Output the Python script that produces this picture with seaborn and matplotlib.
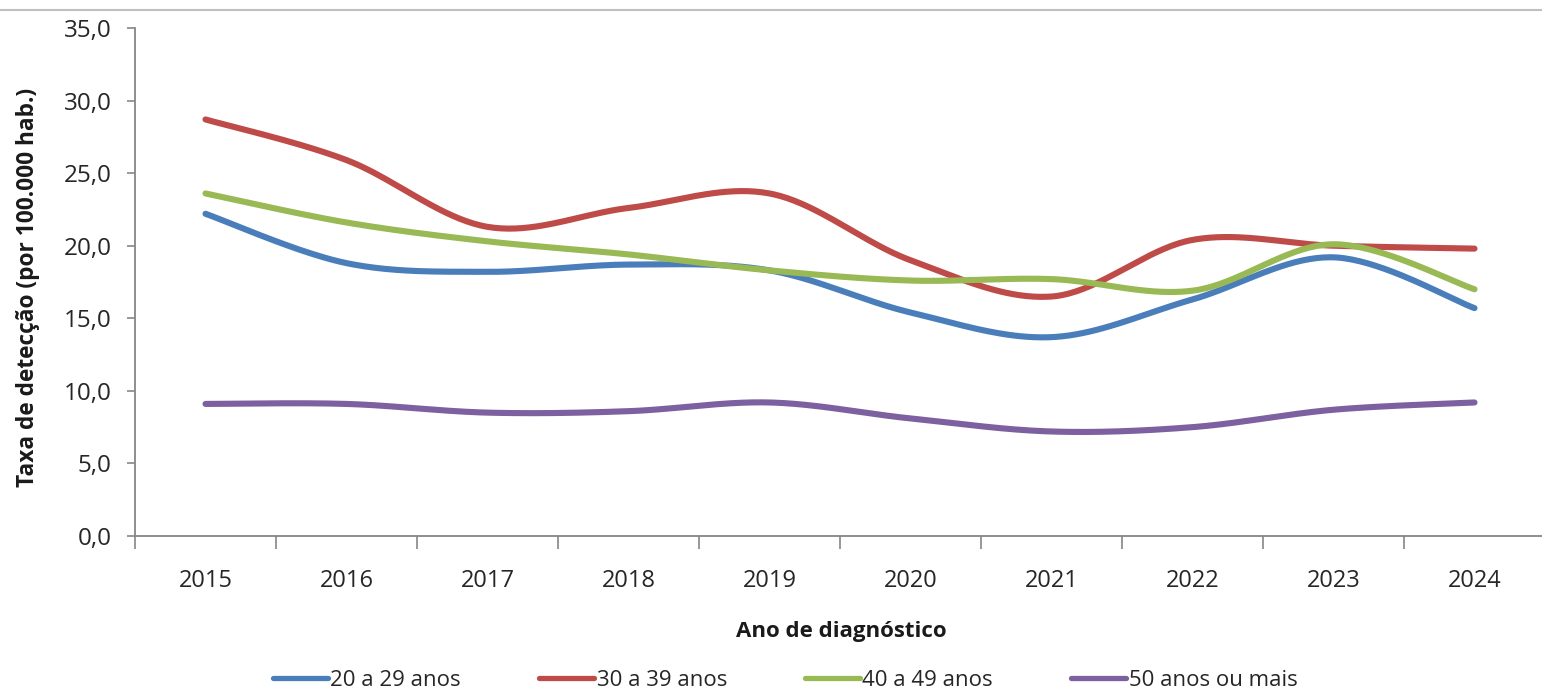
import numpy as np
import pandas as pd
import matplotlib
matplotlib.use("Agg")
import matplotlib.pyplot as plt
import seaborn as sns
from matplotlib.lines import Line2D
from matplotlib.ticker import FixedLocator, FuncFormatter

# Taxa de detecção por faixa etária (por 100.000 hab.)
anos = [2015, 2016, 2017, 2018, 2019, 2020, 2021, 2022, 2023, 2024]
faixa_20_29 = [22.2, 18.8, 18.2, 18.7, 18.3, 15.4, 13.7, 16.3, 19.2, 15.7]
faixa_30_39 = [28.7, 25.9, 21.3, 22.6, 23.6, 19.0, 16.5, 20.4, 20.0, 19.8]
faixa_40_49 = [23.6, 21.6, 20.3, 19.4, 18.3, 17.6, 17.7, 16.9, 20.1, 17.0]
faixa_50_mais = [9.1, 9.1, 8.5, 8.6, 9.2, 8.1, 7.2, 7.5, 8.7, 9.2]

grupos = ["20 a 29 anos", "30 a 39 anos", "40 a 49 anos", "50 anos ou mais"]
series = [faixa_20_29, faixa_30_39, faixa_40_49, faixa_50_mais]
cores = ["#4A7EBB", "#BE4B48", "#98B954", "#7D60A0"]

sns.set_theme(style="white")
plt.rcParams["font.family"] = ["Open Sans", "DejaVu Sans"]

CINZA = "#868686"


def suavizar(valores, passos=40):
    """Curva suavizada (Bézier com pontos de controle Catmull-Rom) passando pelos pontos."""
    y = np.asarray(valores, dtype=float)
    x = np.arange(len(y), dtype=float)
    pts = np.column_stack([x, y])
    ext = np.vstack([pts[0], pts, pts[-1]])
    t = np.linspace(0, 1, passos, endpoint=False)[:, None]
    partes = []
    for i in range(len(pts) - 1):
        p0, p3 = ext[i + 1], ext[i + 2]
        c1 = p0 + (ext[i + 2] - ext[i]) / 6.0
        c2 = p3 - (ext[i + 3] - ext[i + 1]) / 6.0
        partes.append((1 - t) ** 3 * p0 + 3 * (1 - t) ** 2 * t * c1
                      + 3 * (1 - t) * t ** 2 * c2 + t ** 3 * p3)
    partes.append(pts[-1:])
    return np.vstack(partes)


linhas = []
for nome, vals in zip(grupos, series):
    curva = suavizar(vals)
    linhas.append(pd.DataFrame({"pos": curva[:, 0], "taxa": curva[:, 1],
                                "grupo": nome, "ordem": np.arange(len(curva))}))
df = pd.concat(linhas, ignore_index=True)

W, H = 1542, 694
fig = plt.figure(figsize=(W / 100, H / 100), dpi=100)
fig.patch.set_facecolor("white")
ax = fig.add_axes([135 / W, 158 / H, 1410 / W, 508 / H])

sns.lineplot(data=df, x="pos", y="taxa", hue="grupo", hue_order=grupos,
             palette=cores, sort=False, estimator=None, units="grupo",
             linewidth=4.4, legend=False, ax=ax)
for ln in ax.get_lines():
    ln.set_solid_capstyle("round")

ax.set_xlim(-0.5, 9.5)
ax.set_ylim(0, 35)
ax.set_xlabel("")
ax.set_ylabel("")

for s in ["top", "right"]:
    ax.spines[s].set_visible(False)
for s in ["left", "bottom"]:
    ax.spines[s].set_color(CINZA)
    ax.spines[s].set_linewidth(1.3)

ax.yaxis.set_major_locator(FixedLocator(np.arange(0, 36, 5)))
ax.yaxis.set_major_formatter(FuncFormatter(lambda v, _: f"{v:.1f}".replace(".", ",")))
ax.tick_params(axis="y", which="major", direction="out", length=6, width=1.2,
               color=CINZA, labelsize=17.5, labelcolor="#262626", pad=11, left=True)

ax.xaxis.set_major_locator(FixedLocator(range(len(anos))))
ax.set_xticklabels([str(a) for a in anos])
ax.xaxis.set_minor_locator(FixedLocator(np.arange(-0.5, len(anos), 1.0)))
ax.tick_params(axis="x", which="major", length=0, labelsize=17,
               labelcolor="#262626", pad=24, bottom=True)
ax.tick_params(axis="x", which="minor", direction="out", length=9, width=1.2,
               color=CINZA, bottom=True)
ax.grid(False)

fig.text(28 / W, 1 - 287 / H, "Taxa de detecção (por 100.000 hab.)",
         rotation=90, ha="center", va="center", fontsize=16.3,
         fontweight="bold", color="#1a1a1a")
fig.text(841 / W, 1 - 632 / H, "Ano de diagnóstico", ha="center", va="center",
         fontsize=16, fontweight="bold", color="#1a1a1a")

handles = [Line2D([0], [0], color=c, lw=3.8) for c in cores]
fig.legend(handles, grupos, loc="center", bbox_to_anchor=(785 / W, 1 - 680 / H),
           ncol=4, frameon=False, fontsize=16, handlelength=2.5,
           handletextpad=0.1, columnspacing=3.5, labelcolor="#262626")

# filete superior
fig.add_artist(Line2D([0, 1], [1 - 10 / H, 1 - 10 / H], transform=fig.transFigure,
                      color="#BFBFBF", lw=1.5))

fig.savefig("out.png", dpi=100, facecolor="white")
